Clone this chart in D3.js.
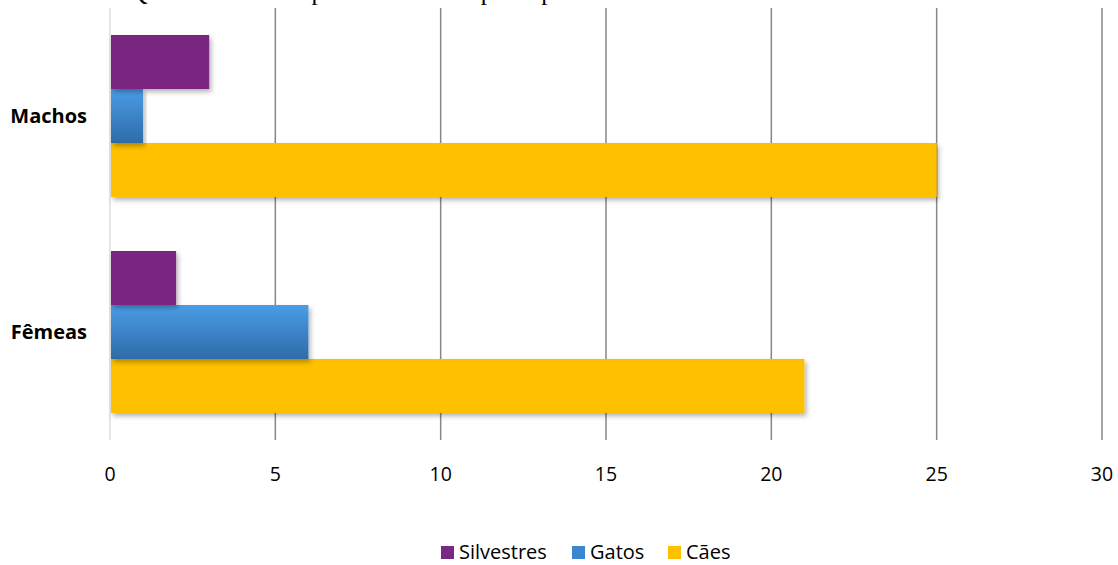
<!DOCTYPE html>
<html>
<head>
<meta charset="utf-8">
<script src="https://cdn.jsdelivr.net/npm/d3@7"></script>
<style>
  body { margin: 0; background: #fff; }
  svg { display: block; }
  text { font-family: "Open Sans", Lato, sans-serif; fill: #000; }
</style>
</head>
<body>
<div id="chart"></div>
<script>
// data
const categories = ["Machos", "Fêmeas"];
const seriesNames = ["Silvestres", "Gatos", "Cães"];
const silvestres = [3, 2];
const gatos = [1, 6];
const caes = [25, 21];
const xTicks = [0, 5, 10, 15, 20, 25, 30];
const title = "Gráfico 1. Quantitativo de espécies atendidas por espécie e sexo";

const W = 1118, H = 565;
const plot = {left: 110, right: 1102, top: 8, bottom: 440};

const svg = d3.select("#chart").append("svg")
  .attr("width", W).attr("height", H);

const defs = svg.append("defs");
const shadow = defs.append("filter").attr("id", "shadow")
  .attr("x", "-5%").attr("y", "-20%").attr("width", "115%").attr("height", "160%");
shadow.append("feDropShadow")
  .attr("dx", 2).attr("dy", 3).attr("stdDeviation", 2.5)
  .attr("flood-color", "#000").attr("flood-opacity", 0.3);

const blueGrad = defs.append("linearGradient").attr("id", "blueGrad")
  .attr("x1", 0).attr("y1", 0).attr("x2", 0).attr("y2", 1);
blueGrad.append("stop").attr("offset", "0%").attr("stop-color", "#4A9DE6");
blueGrad.append("stop").attr("offset", "100%").attr("stop-color", "#2E6BA8");

const colors = {"Silvestres": "#7A2881", "Gatos": "url(#blueGrad)", "Cães": "#FFC000"};
const legendColors = {"Silvestres": "#7A2881", "Gatos": "#3C86CF", "Cães": "#FFC000"};

// title, cut off at the top edge like in the picture
svg.append("text")
  .attr("x", 22).attr("y", 0)
  .style("font-family", "'Liberation Serif', 'Times New Roman', serif")
  .style("font-size", "25px")
  .text(title);

const x = d3.scaleLinear().domain([0, 30]).range([plot.left, plot.right]);
const y = d3.scaleBand().domain(categories)
  .range([plot.top, plot.bottom]).paddingInner(0.25).paddingOuter(0.125);
const ySub = d3.scaleBand().domain(seriesNames).range([0, y.bandwidth()]);

// gridlines
svg.append("g").selectAll("line")
  .data(xTicks).enter().append("line")
  .attr("x1", d => x(d)).attr("x2", d => x(d))
  .attr("y1", plot.top).attr("y2", plot.bottom)
  .style("stroke", d => d === 0 ? "#D9DEE4" : "#868686")
  .style("stroke-width", 1.5);

// bars
const rows = categories.map((c, i) => ({
  cat: c,
  values: [
    {name: "Silvestres", v: silvestres[i]},
    {name: "Gatos", v: gatos[i]},
    {name: "Cães", v: caes[i]}
  ]
}));

const groups = svg.append("g").selectAll("g")
  .data(rows).enter().append("g")
  .attr("transform", d => "translate(0," + y(d.cat) + ")");

groups.selectAll("rect")
  .data(d => d.values.slice().reverse())
  .enter().append("rect")
  .attr("x", x(0) + 1)
  .attr("y", d => ySub(d.name))
  .attr("width", d => x(d.v) - x(0) - 1)
  .attr("height", ySub.bandwidth())
  .attr("fill", d => colors[d.name])
  .attr("filter", "url(#shadow)");

// category labels
svg.append("g").selectAll("text")
  .data(categories).enter().append("text")
  .attr("x", 87)
  .attr("y", d => y(d) + y.bandwidth() / 2)
  .attr("dy", "0.35em")
  .attr("text-anchor", "end")
  .style("font-weight", "bold")
  .style("font-size", "20px")
  .text(d => d);

// x tick labels
svg.append("g").selectAll("text")
  .data(xTicks).enter().append("text")
  .attr("x", d => x(d))
  .attr("y", 481)
  .attr("text-anchor", "middle")
  .style("font-size", "19.5px")
  .text(d => d);

// legend
const legendPos = [441, 572, 668];
const legend = svg.append("g").selectAll("g")
  .data(seriesNames).enter().append("g")
  .attr("transform", (d, i) => "translate(" + legendPos[i] + ",545)");
legend.append("rect")
  .attr("y", 1)
  .attr("width", 13).attr("height", 13)
  .attr("fill", d => legendColors[d]);
legend.append("text")
  .attr("x", 18).attr("y", 14)
  .style("font-size", "20px")
  .text(d => d);
</script>
</body>
</html>
